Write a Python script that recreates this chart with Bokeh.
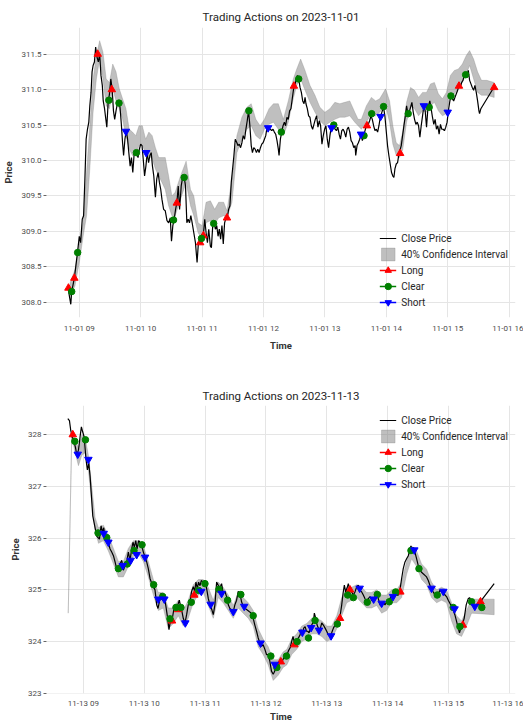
import pandas as pd
from bokeh.plotting import figure
from bokeh.layouts import column
from bokeh.models import (Legend, LegendItem, DatetimeTickFormatter, FixedTicker, Range1d,
                          PrintfTickFormatter)
from bokeh.embed import file_html
from bokeh.resources import INLINE

# ---------------- Day 1: 2023-11-01 (x = minutes after 09:00) ----------------
d1_date = "2023-11-01"
d1_close_pts = [(-11.2,308.22),(-8.3,307.97),(-7.4,308.15),(-4.8,308.34),(-2.6,308.60),(-1.6,308.72),(0.0,308.93),(1.3,308.84),(2.9,309.17),(4.2,309.22),(5.5,309.74),(6.7,310.30),(8.0,310.44),(9.3,310.54),(10.3,310.77),(11.5,310.96),(12.5,311.25),(13.5,311.34),(14.8,311.39),(16.0,311.60),(17.3,311.46),(18.6,311.39),(19.9,311.50),(21.2,311.20),(22.5,311.06),(23.4,310.84),(24.7,310.73),(25.7,310.61),(26.9,310.47),(28.2,310.82),(29.5,310.94),(30.8,311.15),(32.1,311.01),(33.4,310.70),(34.6,310.58),(35.9,310.70),(37.2,310.80),(38.5,310.84),(39.8,310.75),(41.1,310.51),(42.3,310.25),(43.3,310.07),(44.6,310.30),(45.9,310.42),(47.2,310.30),(48.4,310.11),(49.7,309.92),(51.0,310.04),(52.3,309.83),(53.6,310.09),(54.9,310.14),(56.1,310.11),(57.4,310.04),(58.7,310.16),(60.0,310.23),(61.3,310.21),(62.6,310.00),(63.8,309.78),(65.1,309.92),(66.4,310.11),(67.7,309.97),(69.0,310.07),(70.3,310.11),(71.5,309.92),(72.8,309.78),(74.4,309.48),(75.7,309.74),(77.0,309.83),(78.3,309.69),(79.6,309.59),(80.8,309.45),(82.4,309.31),(84.0,309.29),(85.7,309.15),(87.3,309.12),(88.9,309.19),(90.1,308.86),(91.4,309.08),(92.5,309.15),(94.1,309.31),(95.4,309.41),(96.7,309.64),(98.0,309.31),(99.6,309.64),(101.2,309.78),(102.5,309.76),(103.8,309.64),(105.1,309.12),(106.4,309.17),(107.7,309.12),(109.0,309.22),(110.3,309.12),(111.9,308.98),(113.5,308.84),(115.1,308.56),(116.4,308.84),(118.1,308.84),(119.4,308.91),(121.3,308.96),(122.6,309.17),(123.9,308.98),(125.2,308.84),(126.5,309.03),(128.1,308.79),(129.1,308.77),(130.4,309.08),(131.7,309.12),(133.0,309.03),(134.3,309.08),(135.6,308.93),(136.8,309.03),(138.1,308.89),(139.4,309.08),(140.7,308.82),(142.0,309.12),(143.3,309.19),(144.6,309.19),(145.9,309.31),(147.2,309.36),(148.5,309.69),(149.8,309.88),(151.1,310.07),(152.4,310.30),(154.0,310.25),(155.0,310.21),(156.3,310.23),(157.6,310.18),(158.9,310.25),(160.2,310.35),(161.5,310.30),(162.8,310.44),(164.1,310.56),(165.4,310.70),(166.7,310.49),(168.0,310.21),(169.2,310.11),(170.5,310.18),(171.8,310.16),(173.1,310.11),(174.4,310.16),(175.7,310.11),(177.0,310.18),(178.3,310.23),(179.6,310.25),(180.9,310.30),(182.2,310.35),(183.5,310.47),(185.4,310.44),(186.7,310.44),(188.0,310.42),(189.3,310.44),(190.6,310.40),(191.9,310.37),(193.2,310.28),(194.5,310.16),(195.2,310.07),(196.5,310.30),(197.8,310.40),(199.1,310.49),(200.4,310.54),(201.6,310.49),(202.9,310.61),(204.2,310.58),(205.5,310.70),(206.8,310.73),(208.1,310.87),(209.4,311.01),(210.7,311.06),(212.0,311.15),(213.1,311.20),(214.4,311.15),(215.7,311.03),(217.0,310.96),(218.3,310.84),(219.6,310.80),(220.6,310.89),(221.5,310.80),(222.8,310.73),(224.1,310.63),(225.4,310.61),(226.7,310.49),(228.0,310.44),(229.3,310.51),(230.6,310.58),(231.9,310.63),(233.2,310.47),(234.5,310.56),(235.8,310.49),(237.1,310.23),(238.4,310.35),(239.7,310.44),(241.0,310.49),(242.3,310.30),(243.6,310.18),(244.9,310.35),(246.2,310.47),(248.1,310.49),(250.0,310.44),(251.3,310.42),(252.6,310.47),(253.9,310.37),(255.2,310.30),(256.5,310.42),(257.8,310.44),(259.1,310.40),(260.4,310.33),(261.7,310.44),(263.0,310.47),(264.3,310.40),(265.6,310.28),(266.9,310.25),(268.2,310.18),(269.5,310.21),(270.1,310.07),(271.4,310.21),(272.7,310.25),(274.0,310.30),(275.3,310.37),(276.6,310.28),(277.9,310.35),(279.2,310.42),(280.5,310.49),(282.4,310.51),(283.7,310.56),(285.0,310.63),(286.3,310.58),(287.6,310.49),(288.9,310.42),(290.2,310.44),(291.5,310.40),(292.8,310.49),(294.1,310.61),(296.1,310.70),(297.3,310.75),(298.6,310.63),(299.9,310.42),(301.2,310.21),(302.5,310.07),(303.8,309.95),(305.1,309.83),(306.4,309.78),(307.4,309.76),(308.4,309.88),(309.7,309.95),(311.0,309.97),(312.3,310.09),(314.6,310.21),(315.9,310.35),(317.2,310.49),(318.9,310.66),(319.8,310.77),(321.1,310.66),(322.4,310.68),(323.7,310.75),(325.0,310.82),(326.3,310.68),(327.6,310.58),(328.9,310.51),(330.2,310.54),(331.5,310.49),(332.8,310.33),(334.1,310.49),(335.4,310.63),(336.7,310.77),(338.0,310.70),(339.3,310.47),(340.6,310.73),(342.5,310.84),(343.8,310.73),(345.1,310.61),(346.4,310.51),(347.7,310.58),(349.0,310.44),(350.3,310.49),(351.6,310.37),(352.9,310.51),(354.2,310.44),(355.5,310.44),(356.8,310.42),(358.1,310.47),(359.4,310.54),(360.6,310.70),(361.9,310.82),(363.2,310.92),(364.5,310.87),(365.8,310.84),(367.1,310.89),(368.4,310.94),(369.7,310.99),(371.0,311.06),(372.3,311.03),(373.6,311.10),(374.9,311.13),(376.2,311.20),(377.5,311.22),(378.8,311.20),(380.1,311.27),(381.4,311.13),(382.7,311.08),(384.0,311.03),(385.3,310.99),(386.6,311.06),(387.9,310.96),(389.2,310.84),(390.5,310.70),(391.1,310.66),(392.4,310.73),(405.0,311.03)]
d1_band_pts = [(-9.0,308.08,308.27),(-4.2,308.23,308.46),(0.0,308.56,308.84),(3.8,308.93,309.12),(7.1,309.22,309.83),(10.3,309.88,310.49),(13.5,310.68,311.15),(16.7,311.15,311.48),(19.9,311.43,311.69),(23.1,311.15,311.53),(26.3,310.77,311.15),(29.5,310.73,311.10),(32.7,311.01,311.36),(35.9,310.84,311.25),(39.1,310.73,311.01),(42.3,310.58,310.87),(45.6,310.35,310.73),(48.8,310.16,310.44),(52.0,310.07,310.40),(55.2,310.09,310.35),(58.4,310.21,310.49),(61.6,310.21,310.49),(64.8,310.11,310.30),(68.0,310.07,310.40),(71.2,310.02,310.35),(74.4,309.88,310.18),(77.6,309.78,310.04),(80.8,309.69,310.04),(84.0,309.59,310.04),(87.3,309.36,309.78),(90.5,309.22,309.50),(93.7,309.22,309.55),(98.9,309.45,309.78),(104.4,309.69,309.99),(108.7,309.36,309.59),(111.9,309.22,309.50),(116.1,308.98,309.12),(120.0,308.89,309.08),(123.9,309.12,309.41),(128.1,309.15,309.43),(132.3,309.10,309.31),(136.2,309.19,309.41),(141.1,309.22,309.41),(144.3,309.19,309.29),(149.2,309.41,309.74),(154.0,310.11,310.35),(158.9,310.30,310.61),(163.7,310.44,310.75),(168.0,310.49,310.80),(172.5,310.35,310.58),(176.7,310.30,310.49),(180.9,310.44,310.58),(185.4,310.51,310.73),(189.7,310.54,310.80),(194.5,310.44,310.80),(199.4,310.35,310.58),(204.2,310.54,310.84),(209.1,310.87,311.15),(212.5,311.06,311.29),(216.3,311.15,311.43),(220.6,310.99,311.27),(225.4,310.82,311.06),(230.3,310.68,310.92),(235.1,310.56,310.75),(240.0,310.49,310.68),(244.9,310.54,310.73),(249.7,310.58,310.82),(254.6,310.61,310.80),(259.4,310.61,310.82),(264.3,310.63,310.84),(269.2,310.54,310.68),(272.4,310.49,310.58),(275.6,310.44,310.58),(280.5,310.54,310.77),(285.4,310.66,310.89),(289.6,310.63,310.84),(293.5,310.68,310.87),(299.3,310.77,311.01),(303.2,310.54,310.84),(306.4,310.23,310.49),(309.7,310.07,310.25),(312.9,310.04,310.21),(316.0,310.15,310.40),(319.8,310.54,310.82),(323.7,310.77,311.03),(327.6,310.73,310.99),(331.5,310.63,310.89),(335.4,310.70,310.96),(339.3,310.68,310.96),(343.2,310.77,311.08),(347.0,310.82,311.10),(350.9,310.70,310.94),(354.8,310.63,310.87),(358.7,310.66,310.96),(362.6,310.92,311.20),(366.5,310.94,311.27),(370.4,311.01,311.29),(374.3,311.10,311.36),(378.1,311.22,311.48),(381.4,311.34,311.55),(385.3,311.15,311.43),(389.2,310.96,311.25),(393.0,310.92,311.13),(398.2,310.92,311.13),(405.4,310.89,311.10)]
d1_long_pts = [(-10.6,308.20),(-4.8,308.34),(18.0,311.50),(31.8,311.00),(95.3,309.40),(118.1,308.84),(121.3,308.94),(144.3,309.19),(209.7,311.05),(281.1,310.49),(313.5,310.10),(371.0,311.05),(405.4,311.03)]
d1_clear_pts = [(-7.4,308.15),(-1.6,308.70),(28.9,310.85),(38.8,310.81),(55.8,310.11),(92.1,309.16),(102.5,309.76),(119.4,308.90),(131.3,309.11),(165.7,310.70),(197.4,310.40),(214.4,311.15),(248.7,310.50),(278.2,310.35),(285.7,310.66),(297.3,310.76),(321.4,310.66),(341.9,310.75),(363.2,310.91),(377.5,311.21)]
d1_short_pts = [(45.6,310.41),(65.4,310.11),(184.5,310.46),(246.5,310.46),(275.3,310.37),(294.4,310.62),(336.7,310.77),(360.0,310.68)]
d1_price_ticks = [308.0, 308.5, 309.0, 309.5, 310.0, 310.5, 311.0, 311.5]

# ---------------- Day 2: 2023-11-13 (x = minutes after 09:00) ----------------
d2_date = "2023-11-13"
d2_close_pts = [(-15.4,328.31),(-13.8,328.27),(-12.5,328.08),(-11.2,327.96),(-9.9,327.90),(-7.9,327.76),(-6.6,327.61),(-4.9,327.70),(-3.3,327.96),(-2.0,328.15),(-0.7,328.05),(0.7,327.96),(2.6,327.51),(3.9,327.32),(5.3,327.45),(6.6,327.19),(7.9,326.81),(9.2,326.43),(10.5,326.30),(11.8,326.17),(13.1,326.04),(15.8,325.98),(17.4,326.24),(18.7,326.11),(20.0,326.20),(21.3,326.04),(23.0,325.98),(24.6,325.90),(26.3,325.79),(27.9,325.73),(29.6,325.66),(31.2,325.54),(32.8,325.41),(36.1,325.50),(37.8,325.57),(39.4,325.38),(41.1,325.47),(42.7,325.54),(44.3,325.73),(46.0,325.57),(47.6,325.79),(48.9,325.92),(50.2,325.82),(51.6,325.95),(52.9,325.79),(54.5,325.95),(55.8,325.92),(57.5,325.86),(59.1,325.73),(60.4,325.66),(62.4,325.54),(64.0,325.41),(65.7,325.22),(67.3,325.13),(70.6,325.00),(72.3,324.71),(73.6,324.64),(74.9,324.77),(76.5,324.93),(78.2,324.90),(79.8,324.87),(81.4,324.68),(83.1,324.45),(84.4,324.23),(86.0,324.42),(88.0,324.48),(89.3,324.64),(90.6,324.71),(92.6,324.68),(94.6,324.80),(95.9,324.68),(97.2,324.58),(98.5,324.45),(100.2,324.36),(101.8,324.52),(103.4,324.71),(105.1,324.77),(106.7,324.97),(108.4,325.06),(109.7,324.97),(111.0,325.15),(112.3,325.03),(113.6,325.15),(115.0,325.08),(116.3,325.18),(118.2,325.15),(119.9,325.18),(121.5,325.03),(123.2,324.83),(124.8,324.71),(126.8,324.61),(128.1,324.52),(129.7,324.71),(131.4,325.15),(133.0,325.09),(134.6,325.03),(136.3,325.12),(137.9,324.93),(139.6,324.97),(141.2,324.87),(142.9,324.71),(144.5,324.64),(146.1,324.61),(147.8,324.58),(149.4,324.71),(151.1,324.80),(152.7,324.97),(154.4,324.93),(156.0,324.77),(157.6,324.68),(159.6,324.64),(161.6,324.61),(163.5,324.58),(165.5,324.55),(167.5,324.45),(169.1,324.32),(170.8,324.20),(172.4,324.07),(174.1,323.97),(175.7,323.91),(177.3,323.94),(179.0,323.85),(180.6,323.75),(182.3,323.75),(183.9,323.62),(185.5,323.43),(187.2,323.37),(188.8,323.43),(190.5,323.56),(192.1,323.50),(193.8,323.62),(195.4,323.59),(197.0,323.66),(198.7,323.72),(200.3,323.72),(202.2,323.82),(203.9,323.88),(205.5,324.01),(206.8,324.10),(208.1,323.97),(209.5,324.01),(212.1,324.07),(213.7,324.13),(214.7,324.23),(216.0,324.13),(217.3,324.26),(218.7,324.29),(220.0,324.20),(221.3,324.20),(222.6,324.17),(223.9,324.26),(225.2,324.32),(226.9,324.39),(227.8,324.55),(229.2,324.45),(230.5,324.32),(231.8,324.26),(233.4,324.23),(235.1,324.36),(236.7,324.32),(238.4,324.26),(240.0,324.20),(241.6,324.13),(243.3,324.10),(244.9,324.17),(246.6,324.26),(248.2,324.32),(249.9,324.36),(251.5,324.42),(253.1,324.48),(254.8,324.71),(256.1,324.93),(257.4,325.09),(258.7,324.96),(260.0,325.03),(261.3,325.12),(263.0,324.99),(264.6,324.96),(266.3,324.90),(267.9,324.96),(269.6,325.06),(271.2,325.09),(272.8,324.99),(274.5,324.96),(276.1,324.90),(277.8,324.83),(279.4,324.77),(281.1,324.83),(282.7,324.87),(284.3,324.80),(286.0,324.77),(287.6,324.90),(289.3,324.93),(290.9,324.83),(292.5,324.71),(294.2,324.68),(295.8,324.77),(297.5,324.71),(299.1,324.77),(300.8,324.80),(302.4,324.83),(304.0,324.90),(305.7,324.87),(307.3,324.93),(309.0,324.90),(310.6,324.90),(312.2,324.99),(313.9,325.22),(315.5,325.41),(317.2,325.54),(318.8,325.60),(320.5,325.66),(322.1,325.79),(323.1,325.85),(324.4,325.76),(325.7,325.82),(327.0,325.73),(328.7,325.60),(330.3,325.47),(332.0,325.38),(333.6,325.34),(335.2,325.31),(336.9,325.28),(338.5,325.25),(340.2,325.18),(341.8,325.09),(343.4,325.03),(345.1,324.96),(346.7,324.90),(348.4,324.93),(350.0,324.93),(351.7,324.99),(353.3,324.96),(354.9,324.97),(356.6,324.90),(358.2,324.87),(359.9,324.80),(361.5,324.74),(363.2,324.68),(364.8,324.61),(366.4,324.52),(368.1,324.39),(369.7,324.26),(371.0,324.17),(372.3,324.26),(373.7,324.32),(375.6,324.45),(377.6,324.71),(379.6,324.83),(380.9,324.85),(382.2,324.80),(382.9,324.77),(384.8,324.71),(386.1,324.66),(388.1,324.72),(390.1,324.71),(391.4,324.77),(405.2,325.12)]
d2_band_pts = [(-15.0,324.55,324.55),(-11.5,327.98,328.02),(-8.2,327.65,327.90),(-4.9,327.40,327.75),(-1.6,327.60,328.00),(1.6,327.65,327.95),(4.9,327.30,327.60),(8.2,326.70,327.00),(11.5,326.15,326.40),(14.8,325.90,326.20),(19.7,325.95,326.25),(24.6,325.75,326.05),(29.6,325.50,325.80),(34.5,325.25,325.55),(39.4,325.25,325.55),(44.3,325.45,325.80),(49.3,325.65,325.95),(54.2,325.70,325.95),(59.1,325.55,325.85),(64.0,325.25,325.55),(69.0,324.90,325.20),(73.9,324.60,324.95),(78.8,324.65,324.95),(83.7,324.25,324.65),(88.7,324.35,324.65),(93.6,324.50,324.80),(98.5,324.30,324.60),(103.4,324.45,324.80),(108.4,324.75,325.10),(113.3,324.90,325.20),(118.2,324.95,325.20),(123.1,324.70,325.05),(128.1,324.45,324.80),(133.0,324.85,325.15),(137.9,324.75,325.05),(142.9,324.60,324.90),(147.8,324.45,324.70),(152.7,324.65,324.95),(157.6,324.55,324.85),(162.6,324.45,324.75),(167.5,324.30,324.60),(172.4,323.90,324.25),(177.3,323.75,324.05),(182.3,323.55,323.90),(187.2,323.25,323.65),(192.1,323.35,323.65),(197.0,323.50,323.80),(200.6,323.55,323.85),(205.5,323.75,324.05),(210.4,323.85,324.15),(215.4,324.00,324.30),(220.3,324.05,324.35),(225.2,324.15,324.45),(230.1,324.15,324.45),(235.1,324.10,324.40),(240.0,324.00,324.30),(244.9,324.05,324.30),(249.9,324.25,324.50),(254.8,324.50,324.85),(259.7,324.75,325.05),(264.6,324.80,325.05),(269.6,324.85,325.10),(274.5,324.75,325.05),(279.4,324.65,324.95),(284.3,324.65,324.95),(289.3,324.70,325.00),(294.2,324.55,324.90),(299.1,324.60,324.90),(304.0,324.75,325.00),(309.0,324.75,325.00),(313.9,324.85,325.15),(318.8,325.30,325.55),(323.7,325.60,325.85),(328.7,325.45,325.75),(333.6,325.20,325.50),(338.5,325.10,325.40),(343.4,324.85,325.15),(348.4,324.75,325.00),(353.3,324.80,325.05),(358.2,324.75,325.00),(363.2,324.40,324.75),(368.1,324.15,324.50),(373.0,324.10,324.40),(377.9,324.30,324.60),(382.9,324.55,324.82),(405.2,324.52,324.82)]
d2_long_pts = [(-10.5,328.00),(87.4,324.40),(93.3,324.62),(109.4,324.90),(194.7,323.61),(208.1,323.94),(253.1,324.45),(263.0,325.00),(312.6,324.96),(374.3,324.32),(391.7,324.77)]
d2_clear_pts = [(-8.5,327.87),(2.0,327.90),(14.4,326.10),(23.0,326.01),(34.5,325.41),(43.3,325.50),(49.9,325.76),(57.8,325.87),(69.3,325.10),(78.2,324.87),(85.4,324.44),(91.3,324.66),(96.2,324.66),(106.4,324.76),(113.6,324.99),(119.9,325.12),(133.7,325.01),(142.2,324.80),(155.3,324.91),(167.5,324.50),(184.9,323.72),(190.8,323.50),(200.3,323.72),(210.8,324.00),(222.0,324.07),(228.5,324.41),(250.5,324.34),(260.7,324.90),(266.3,324.85),(280.0,324.76),(289.9,324.91),(301.7,324.77),(308.0,324.96),(323.1,325.76),(331.0,325.41),(349.0,324.90),(364.8,324.66),(371.4,324.29),(382.9,324.77),(393.0,324.66)]
d2_short_pts = [(-5.6,327.62),(4.9,327.52),(20.0,326.09),(24.6,325.92),(38.8,325.47),(46.6,325.57),(52.5,325.68),(60.8,325.63),(73.9,324.82),(79.8,324.82),(100.5,324.36),(116.3,324.97),(125.5,324.72),(136.3,324.93),(147.8,324.58),(158.6,324.68),(174.7,323.97),(188.8,323.56),(216.0,324.18),(224.6,324.27),(232.4,324.22),(244.3,324.11),(272.5,325.03),(286.3,324.82),(294.2,324.74),(305.4,324.87),(326.4,325.77),(343.4,325.03),(355.0,324.97),(366.1,324.63),(386.1,324.68)]
d2_price_ticks = [323, 324, 325, 326, 327, 328]

tick_hours = [9, 10, 11, 12, 13, 14, 15, 16]

FONT = "Roboto"
EPOCH = pd.Timestamp("1970-01-01")


def to_times(date, mins):
    base = pd.Timestamp(f"{date} 09:00")
    return [base + pd.Timedelta(minutes=m) for m in mins]


def make_fig(date, close_pts, band_pts, long_pts, clear_pts, short_pts, price_ticks, price_fmt,
             height, b_top, b_bottom, legend_loc, xl_standoff, xa_standoff, title_standoff):
    cm = [m for m, _ in close_pts]
    cv = [v for _, v in close_pts]
    bm = [m for m, _, _ in band_pts]
    blo = [lo for _, lo, _ in band_pts]
    bhi = [hi for _, _, hi in band_pts]

    all_m = cm + bm + [m for m, _ in long_pts + clear_pts + short_pts]
    all_v = cv + blo + bhi
    m0, m1 = min(all_m), max(all_m)
    v0, v1 = min(all_v), max(all_v)
    mp, vp = (m1 - m0) * 0.05, (v1 - v0) * 0.05
    t_start, t_end = to_times(date, [m0 - mp, m1 + mp])

    p = figure(width=523, height=height, x_axis_type="datetime",
               output_backend="svg", toolbar_location=None,
               title=f"Trading Actions on {date}",
               x_range=Range1d(t_start, t_end), y_range=Range1d(v0 - vp, v1 + vp),
               min_border_left=45, min_border_right=8,
               min_border_top=b_top, min_border_bottom=b_bottom)
    p.outline_line_color = None
    p.background_fill_color = "white"
    p.border_fill_color = "white"

    p.title.text_font = FONT
    p.title.text_font_size = "11.5px"
    p.title.text_font_style = "normal"
    p.title.text_color = "#262626"
    p.title.align = "center"
    p.title.standoff = title_standoff

    xt = FixedTicker(ticks=[(pd.Timestamp(f"{date} {h:02d}:00") - EPOCH) / pd.Timedelta(milliseconds=1)
                            for h in tick_hours])
    yt = FixedTicker(ticks=price_ticks)
    p.xaxis.ticker = xt
    p.xgrid.ticker = xt
    p.yaxis.ticker = yt
    p.ygrid.ticker = yt
    fmt = "%m-%d %H"
    p.xaxis.formatter = DatetimeTickFormatter(hours=fmt, hourmin=fmt, minutes=fmt, minsec=fmt,
                                              days=fmt, months=fmt, years=fmt)
    p.yaxis.formatter = PrintfTickFormatter(format=price_fmt)

    for ax in (p.xaxis[0], p.yaxis[0]):
        ax.axis_line_color = None
        ax.minor_tick_line_color = None
        ax.minor_tick_out = 0
        ax.minor_tick_in = 0
        ax.major_label_text_font = FONT
        ax.major_label_text_font_size = "8px"
        ax.major_label_text_color = "#4d4d4d"
        ax.axis_label_text_font = FONT
        ax.axis_label_text_font_size = "9.5px"
        ax.axis_label_text_font_style = "bold"
        ax.axis_label_text_color = "#333333"
    p.xaxis.major_tick_line_color = None
    p.xaxis.major_tick_out = 0
    p.xaxis.major_tick_in = 0
    p.xaxis.major_label_standoff = xl_standoff
    p.xaxis.axis_label = "Time"
    p.xaxis.axis_label_standoff = xa_standoff
    p.yaxis.major_tick_out = 3
    p.yaxis.major_tick_in = 0
    p.yaxis.major_tick_line_color = "#666666"
    p.yaxis.major_label_standoff = 2
    p.yaxis.axis_label = "Price"
    p.yaxis.axis_label_standoff = 4

    p.xgrid.grid_line_color = "#e5e5e5"
    p.ygrid.grid_line_color = "#e5e5e5"
    p.xgrid.grid_line_width = 1
    p.ygrid.grid_line_width = 1

    bt = to_times(date, bm)
    r_band = p.patch(x=bt + bt[::-1], y=bhi + blo[::-1], fill_color="#808080", fill_alpha=0.5,
                     line_color="#808080", line_alpha=0.3, line_width=1)
    r_close = p.line(x=to_times(date, cm), y=cv, line_color="black", line_width=1.2)

    items = [LegendItem(label="Close Price", renderers=[r_close]),
             LegendItem(label="40% Confidence Interval", renderers=[r_band])]
    for label, pts, color, marker, size in (("Long", long_pts, "#ff0000", "triangle", 7.5),
                                            ("Clear", clear_pts, "#008000", "circle", 6.5),
                                            ("Short", short_pts, "#0000ff", "inverted_triangle", 7.5)):
        r_s = p.scatter(x=to_times(date, [m for m, _ in pts]), y=[v for _, v in pts],
                        marker=marker, size=size, fill_color=color, line_color=color)
        # legend-only line sample (single NaN point, draws nothing in the plot)
        r_l = p.line(x=[t_start], y=[float("nan")], line_color=color, line_width=1.5)
        items.append(LegendItem(label=label, renderers=[r_l, r_s]))

    legend = Legend(items=items, location=legend_loc, margin=7, padding=0,
                    background_fill_alpha=0, border_line_alpha=0,
                    label_text_font=FONT, label_text_font_size="10px",
                    label_text_color="#262626", glyph_width=17, glyph_height=16,
                    label_height=16, label_standoff=5, spacing=0)
    p.add_layout(legend)
    return p


p1 = make_fig(d1_date, d1_close_pts, d1_band_pts, d1_long_pts, d1_clear_pts, d1_short_pts,
              d1_price_ticks, "%.1f", height=357, b_top=27, b_bottom=40,
              legend_loc="bottom_right", xl_standoff=6, xa_standoff=4, title_standoff=7)
p2 = make_fig(d2_date, d2_close_pts, d2_band_pts, d2_long_pts, d2_clear_pts, d2_short_pts,
              d2_price_ticks, "%d", height=367, b_top=48, b_bottom=28,
              legend_loc="top_right", xl_standoff=5, xa_standoff=0, title_standoff=5)

layout = column(p1, p2)
open("out.html", "w").write(file_html(layout, INLINE))
